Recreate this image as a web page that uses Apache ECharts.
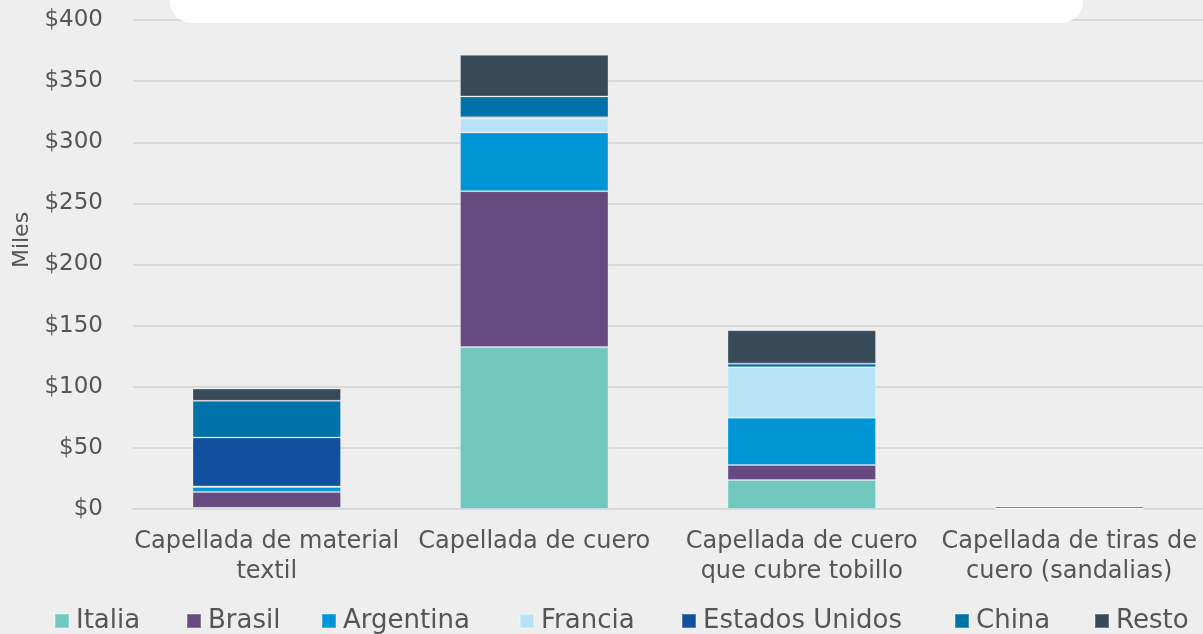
<!DOCTYPE html>
<html>
<head>
<meta charset="utf-8">
<script src="https://cdn.jsdelivr.net/npm/echarts@6/dist/echarts.min.js"></script>
<style>
  html, body { margin: 0; padding: 0; background: #eeeeee; }
  #chart { width: 1203px; height: 634px; }
</style>
</head>
<body>
<div id="chart"></div>
<script>
// Categories (product types)
const categories = [
  'Capellada de material\ntextil',
  'Capellada de cuero',
  'Capellada de cuero\nque cubre tobillo',
  'Capellada de tiras de\ncuero (sandalias)'
];

// Values per origin, in thousands of USD
const italia        = [1, 132.5, 23.7, 0];
const brasil        = [13, 127.5, 12.3, 0];
const argentina     = [4, 48, 38.7, 0];
const francia       = [0.5, 11.5, 41.2, 0.5];
const estadosUnidos = [40, 1, 0, 0];
const china         = [30, 17, 3, 1.5];
const resto         = [10, 34, 27.3, 0];

const yTicks = [0, 50, 100, 150, 200, 250, 300, 350, 400];

const seriesNames = ['Italia', 'Brasil', 'Argentina', 'Francia', 'Estados Unidos', 'China', 'Resto'];
const seriesData = [italia, brasil, argentina, francia, estadosUnidos, china, resto];
const colors = ['#71c8bf', '#674a80', '#0095d5', '#b8e3f6', '#11509e', '#0072aa', '#394a59'];

// Left edge of each legend entry
const legendLeft = [54, 186, 321, 519, 681, 954, 1094];

const FONT = 'DejaVu Sans';
const TEXT = '#555555';

const chart = echarts.init(document.getElementById('chart'), null, { renderer: 'canvas' });

chart.setOption({
  backgroundColor: '#eeeeee',
  animation: false,
  color: colors,
  textStyle: { fontFamily: FONT, color: TEXT },
  grid: { left: 133, top: 20, width: 1074, bottom: 125, containLabel: false },
  legend: seriesNames.map((name, i) => ({
    bottom: 0,
    left: legendLeft[i],
    padding: 0,
    itemWidth: 14,
    itemHeight: 14,
    icon: 'rect',
    textStyle: { fontFamily: FONT, fontSize: 26, color: TEXT, padding: [0, 0, 0, 2] },
    data: [name]
  })),
  xAxis: {
    type: 'category',
    data: categories,
    axisLine: { show: true, lineStyle: { color: '#d9d9d9', width: 2 } },
    axisTick: { show: false },
    axisLabel: { fontFamily: FONT, fontSize: 24, color: TEXT, lineHeight: 30, margin: 18, interval: 0 }
  },
  yAxis: {
    type: 'value',
    min: yTicks[0],
    max: yTicks[yTicks.length - 1],
    interval: 50,
    axisLine: { show: false },
    axisTick: { show: false },
    splitLine: { lineStyle: { color: '#d9d9d9', width: 2 } },
    axisLabel: {
      fontFamily: FONT, fontSize: 23, color: TEXT, margin: 30,
      formatter: v => '$' + v
    }
  },
  series: seriesNames.map((name, i) => ({
    name,
    type: 'bar',
    stack: 'total',
    barWidth: '55.5%',
    data: seriesData[i],
    itemStyle: { color: colors[i], borderColor: 'rgba(255,255,255,0.25)', borderWidth: 1 }
  })),
  graphic: [
    {
      type: 'rect',
      shape: { x: 170, y: -20, width: 913, height: 43, r: 28 },
      style: { fill: '#ffffff' },
      z: 100
    },
    {
      type: 'text',
      x: 22,
      y: 240,
      rotation: Math.PI / 2,
      style: {
        text: 'Miles',
        font: '22px "DejaVu Sans"',
        fill: TEXT,
        align: 'center',
        verticalAlign: 'middle'
      }
    }
  ]
});
</script>
</body>
</html>
